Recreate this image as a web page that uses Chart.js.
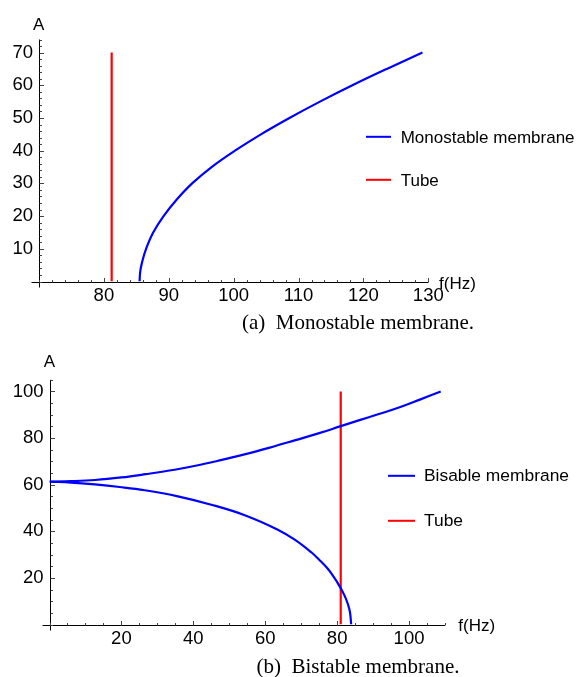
<!DOCTYPE html>
<html>
<head>
<meta charset="utf-8">
<script src="https://cdn.jsdelivr.net/npm/chart.js@4.4.1/dist/chart.umd.min.js"></script>
<style>
  html, body { margin: 0; padding: 0; background: #fff; }
  #page { position: relative; width: 583px; height: 677px; overflow: hidden;
          font-family: 'Liberation Sans', Arial, sans-serif; color: #000; }
  canvas { position: absolute; left: 0; }
  .t { position: absolute; font-size: 17px; line-height: 1; white-space: nowrap; transform: translateY(-50%); }
  .c { transform: translate(-50%, -50%); }
  .cap { position: absolute; font-family: 'Liberation Serif', 'Times New Roman', serif; font-size: 21px;
         line-height: 1; white-space: nowrap; color: #000; transform: translate(-50%, -50%); }
  .key { position: absolute; height: 2.4px; transform: translateY(-50%); }
</style>
</head>
<body>
<div id="page">
  <canvas id="chartA" width="583" height="310" style="top:0"></canvas>
  <canvas id="chartB" width="583" height="337" style="top:340px"></canvas>

  <div class="t c" style="left:38.7px; top:23.5px">A</div>
  <div class="t" style="left:439px; top:283px">f(Hz)</div>
  <div class="key" style="left:366px; width:25px; top:136.7px; background:#0000ff"></div>
  <div class="t" style="left:400.7px; top:136.7px">Monostable membrane</div>
  <div class="key" style="left:366px; width:25px; top:180px; background:#ff0000"></div>
  <div class="t" style="left:400.7px; top:180px">Tube</div>
  <div class="cap" style="left:358px; top:322px">(a)&nbsp; Monostable membrane.</div>

  <div class="t c" style="left:49.3px; top:361px">A</div>
  <div class="t" style="left:458.3px; top:625px">f(Hz)</div>
  <div class="key" style="left:387.7px; width:27.3px; top:475.7px; background:#0000ff"></div>
  <div class="t" style="left:424px; top:475.7px; font-size:17.4px">Bisable membrane</div>
  <div class="key" style="left:387.7px; width:27.3px; top:521px; background:#ff0000"></div>
  <div class="t" style="left:424px; top:521px; font-size:17.4px">Tube</div>
  <div class="cap" style="left:358px; top:666px">(b)&nbsp; Bistable membrane.</div>
</div>

<script>
// (a) monostable membrane: frequency (Hz) vs amplitude A
const monoF = [85.5, 85.6, 85.9, 86.5, 87.6, 89.2, 91.2, 93.6, 96.6, 100.2, 104.2, 108.6, 113.3, 118.3, 123.6, 129.1];
const monoA = [0, 3, 6, 10, 15, 20, 25, 30, 35, 40, 45, 50, 55, 60, 65, 70];
const tubeAF = [81.2, 81.2];
const tubeAA = [0, 70];
const monoXTicks = [80, 90, 100, 110, 120, 130];
const monoYTicks = [10, 20, 30, 40, 50, 60, 70];

// (b) bistable membrane: upper and lower branches
const biUpperF = [0, 6, 12.7, 20, 26.7, 34.8, 40.6, 47, 54.5, 61, 68.4, 75, 80.8, 86, 91.6, 97, 103, 108.8];
const biUpperA = [61.3, 61.5, 62.0, 63.1, 64.5, 66.4, 68.1, 70.3, 73.1, 75.8, 79.1, 82.1, 85.0, 87.6, 90.3, 93.0, 96.5, 100];
const biLowerF = [0, 6, 12.6, 19.5, 26.5, 35.7, 45, 54.3, 63.5, 68.2, 72.8, 75, 77.4, 79, 80.5, 82, 83.0, 83.6, 83.9];
const biLowerA = [61.3, 60.9, 60.1, 59.0, 57.6, 55.0, 51.4, 46.9, 40.7, 36.4, 31.0, 27.8, 23.9, 20.5, 16.9, 12.6, 8.7, 5.0, 0];
const tubeBF = [81.0, 81.0];
const tubeBA = [0, 100];
const biXTicks = [20, 40, 60, 80, 100];
const biYTicks = [20, 40, 60, 80, 100];

const BLUE = '#0000ff';
const RED = '#ff0000';

function pts(xs, ys) {
  return xs.map((v, i) => ({ x: v, y: ys[i] }));
}

// Mathematica-like axes: crossing at (xmin, 0), ticks pointing inward
const axesPlugin = {
  id: 'mmaAxes',
  beforeDatasetsDraw(chart, args, opts) {
    const { ctx, chartArea } = chart;
    const xs = chart.scales.x, ys = chart.scales.y;
    const ox = Math.round(xs.getPixelForValue(xs.min)) + 0.5;
    const oy = Math.round(ys.getPixelForValue(0)) + 0.5;
    ctx.save();
    ctx.lineWidth = 1;
    ctx.strokeStyle = '#000';
    ctx.beginPath();
    ctx.moveTo(ox - opts.ext, oy);
    ctx.lineTo(chartArea.right, oy);
    ctx.moveTo(ox, chartArea.top);
    ctx.lineTo(ox, oy + 5);
    ctx.stroke();

    ctx.strokeStyle = '#444';
    ctx.beginPath();
    const eps = 1e-6;
    for (let v = xs.min; v <= xs.max + eps; v += opts.xMinor) {
      const major = opts.xMajor.some(m => Math.abs(m - v) < eps);
      const px = Math.round(xs.getPixelForValue(v)) + 0.5;
      ctx.moveTo(px, oy);
      ctx.lineTo(px, oy - (major ? 4.5 : 2.5));
    }
    for (let v = 0; v <= ys.max + eps; v += opts.yMinor) {
      const major = opts.yMajor.some(m => Math.abs(m - v) < eps);
      const py = Math.round(ys.getPixelForValue(v)) + 0.5;
      ctx.moveTo(ox, py);
      ctx.lineTo(ox + (major ? 4.5 : 2.5), py);
    }
    ctx.stroke();
    ctx.restore();
  }
};

function makeChart(id, cfg) {
  const tickFont = { family: "'Liberation Sans', Arial, sans-serif", size: 18.5 };
  return new Chart(document.getElementById(id), {
    type: 'line',
    data: { datasets: cfg.datasets },
    options: {
      responsive: false,
      animation: false,
      devicePixelRatio: 1,
      layout: { autoPadding: false, padding: cfg.padding },
      elements: {
        point: { radius: 0 },
        line: { borderWidth: 2.2, tension: 0.4, fill: false }
      },
      plugins: {
        legend: { display: false },
        tooltip: { enabled: false },
        mmaAxes: { ext: cfg.ext, xMinor: cfg.xMinor, yMinor: cfg.yMinor, xMajor: cfg.xTicks, yMajor: cfg.yTicks }
      },
      scales: {
        x: {
          type: 'linear', min: cfg.xMin, max: cfg.xMax,
          grid: { display: false, drawTicks: false }, border: { display: false },
          afterBuildTicks: s => { s.ticks = cfg.xTicks.map(v => ({ value: v })); },
          afterFit: s => { s.height = cfg.xHeight; },
          ticks: { padding: 3, color: '#000', font: tickFont, maxRotation: 0, autoSkip: false }
        },
        y: {
          type: 'linear', min: 0, max: cfg.yMax,
          grid: { display: false, drawTicks: false }, border: { display: false },
          afterBuildTicks: s => { s.ticks = cfg.yTicks.map(v => ({ value: v })); },
          afterFit: s => { s.width = cfg.yWidth; },
          ticks: { padding: 6, color: '#000', font: tickFont, autoSkip: false }
        }
      }
    },
    plugins: [axesPlugin]
  });
}

makeChart('chartA', {
  datasets: [
    { label: 'Monostable membrane', data: pts(monoF, monoA), borderColor: BLUE },
    { label: 'Tube', data: pts(tubeAF, tubeAA), borderColor: RED, tension: 0 }
  ],
  padding: { left: 0, right: 154.7, top: 39.5, bottom: 0 },
  xMin: 70, xMax: 130, yMax: 74,
  xTicks: monoXTicks, yTicks: monoYTicks,
  xMinor: 2, yMinor: 2, ext: 8,
  xHeight: 28.5, yWidth: 39
});

makeChart('chartB', {
  datasets: [
    { label: 'Bisable membrane', data: pts(biUpperF, biUpperA), borderColor: BLUE },
    { label: 'Bisable membrane', data: pts(biLowerF, biLowerA), borderColor: BLUE },
    { label: 'Tube', data: pts(tubeBF, tubeBA), borderColor: RED, tension: 0 }
  ],
  padding: { left: 0, right: 138, top: 39.8, bottom: 0 },
  xMin: 0, xMax: 110, yMax: 105,
  xTicks: biXTicks, yTicks: biYTicks,
  xMinor: 5, yMinor: 5, ext: 8,
  xHeight: 52.5, yWidth: 49.5
});
</script>
</body>
</html>
